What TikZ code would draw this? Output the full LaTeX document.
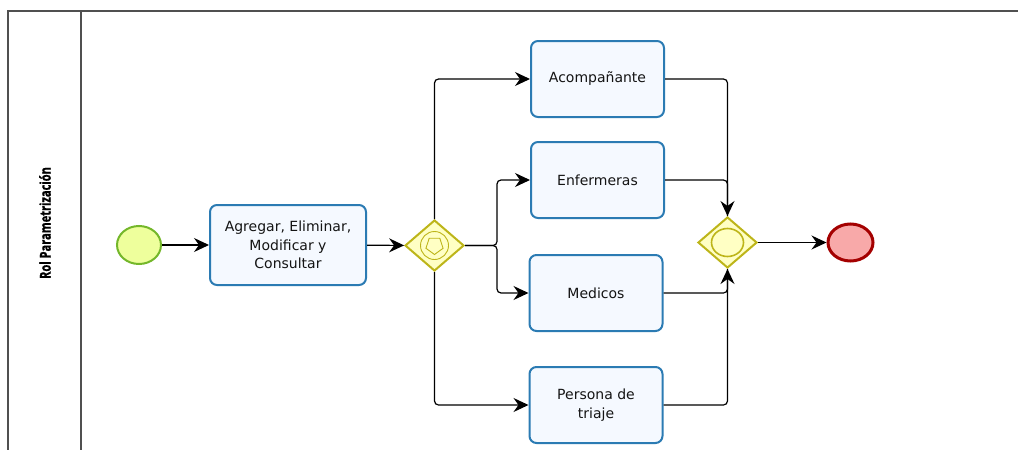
\documentclass[tikz,border=0pt]{standalone}
\usepackage{fontspec}
\setmainfont{DejaVu Sans}
\newfontfamily\lanefont[BoldFeatures={FakeBold=1.3}]{Open Sans}
\usetikzlibrary{shapes.geometric,arrows.meta}

\definecolor{taskfill}{HTML}{F5F9FF}
\definecolor{taskline}{HTML}{2B7BB3}
\definecolor{startfill}{HTML}{EEFF9C}
\definecolor{startline}{HTML}{74B72A}
\definecolor{endfill}{HTML}{F8A9A9}
\definecolor{endline}{HTML}{A40000}
\definecolor{gwfill}{HTML}{FFFFC4}
\definecolor{gwline}{HTML}{BDB519}
\definecolor{poolline}{HTML}{505050}
\definecolor{txt}{HTML}{141414}

\tikzset{
  task/.style={draw=taskline, fill=taskfill, line width=2pt, rounded corners=7pt,
    minimum width=133pt, minimum height=76pt, inner sep=2pt, align=center,
    font=\fontsize{14}{18.5}\selectfont, text=txt},
  startev/.style={ellipse, draw=startline, fill=startfill, line width=2pt,
    minimum width=44pt, minimum height=38pt, inner sep=0pt},
  endev/.style={ellipse, draw=endline, fill=endfill, line width=3pt,
    minimum width=45pt, minimum height=37pt, inner sep=0pt},
  gateway/.style={diamond, draw=gwline, fill=gwfill, line width=2pt,
    minimum width=59pt, minimum height=51pt, inner sep=0pt},
  flow/.style={draw=black, line width=1.2pt, rounded corners=4pt,
    -{Stealth[length=15pt,width=14pt,inset=5pt]}},
  flowline/.style={draw=black, line width=1.2pt, rounded corners=4pt},
  pool/.style={draw=poolline, line width=1.3pt}
}

\begin{document}
\begin{tikzpicture}[x=1pt,y=-1pt]
  \useasboundingbox (0,0) rectangle (1018,450);

  % pool and lane frame
  \draw[pool] (8,450) -- (8,11) -- (1018,11);
  \draw[pool] (81,11) -- (81,450);
  \node[rotate=90, font=\lanefont\bfseries\fontsize{15}{17}\selectfont, text=black]
    (lane) at (45,223) {\scalebox{0.74}[1]{Rol Parametrización}};

  % events
  \node[startev] (start) at (139,245) {};
  \node[endev] (end) at (850.5,242.5) {};

  % tasks
  \node[task, minimum width=156pt, minimum height=80pt] (t0) at (288,245)
    {Agregar, Eliminar,\\Modificar y\\Consultar};
  \node[task] (a) at (597.5,79) {Acompañante};
  \node[task] (e) at (597.5,180) {Enfermeras};
  \node[task] (m) at (596,293) {Medicos};
  \node[task] (p) at (596,405) {Persona de\\triaje};

  % gateways
  \node[gateway] (g1) at (434.5,245.5) {};
  \draw[gwline, line width=0.9pt] (g1.center) circle (14pt);
  \draw[gwline, line width=0.9pt]
    (g1.center) +(-90:9pt) -- +(-18:9pt) -- +(54:9pt) -- +(126:9pt)
      -- +(198:9pt) -- cycle;
  \node[gateway] (g2) at (727.5,242.5) {};
  \draw[gwline, line width=1.6pt] (g2.center) ellipse (16pt and 14pt);

  % split point after the first gateway
  \coordinate (split) at (497,245.5);

  % sequence flows
  \draw[flow] (start) -- (t0);
  \draw[flow] (t0) -- (g1);
  \draw[flow] (g1.north) |- (a.west);
  \draw[flow] (g1.south) |- (p.west);
  \draw[flow] (g1.east) -- (split) |- (e.west);
  \draw[flow] (g1.east) -- (split) |- (m.west);
  \draw[flow] (a.east) -| (g2.north);
  \draw[flowline] (e.east) -| (g2.north);
  \draw[flowline] (m.east) -| (g2.south);
  \draw[flow] (p.east) -| (g2.south);
  \draw[flow] (g2) -- (end);
\end{tikzpicture}
\end{document}
